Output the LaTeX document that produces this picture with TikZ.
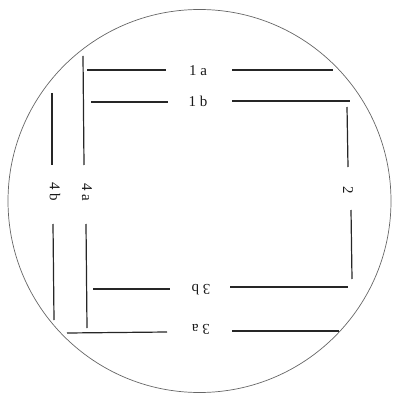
\documentclass[tikz,border=0pt]{standalone}
\usepackage{fontspec}
\setmainfont{Liberation Serif}
\begin{document}
\begin{tikzpicture}[x=1pt,y=-1pt,
  seg/.style={line width=1.2pt, black!85},
  rim/.style={line width=0.7pt, black!60},
  lab/.style={font=\fontsize{15}{15}\selectfont, inner sep=1pt, text=black!90}]
\useasboundingbox (0,0) rectangle (393,395);
\draw[rim] (199.5,201) circle[radius=191.5];
% labels
\node[lab] (l1a) at (198,71) {1 a};
\node[lab] (l1b) at (198,101) {1 b};
\node[lab, rotate=-90] (l2) at (348,190) {2};
\node[lab, rotate=180] (l3b) at (201,290) {3 b};
\node[lab, rotate=180] (l3a) at (201,329) {3 a};
\node[lab, rotate=-90] (l4a) at (87,192) {4 a};
\node[lab, rotate=-90] (l4b) at (55,192) {4 b};
% 1a
\draw[seg] (87,70) -- (166,70);
\draw[seg] (232,70) -- (333,70);
% 1b
\draw[seg] (91,102) -- (168,102);
\draw[seg] (232,101) -- (350,101);
% 2
\draw[seg] (347,107) -- (348,167);
\draw[seg] (351,210) -- (352,279);
% 3b
\draw[seg] (93,289) -- (170,289);
\draw[seg] (230,287) -- (348,287);
% 3a
\draw[seg] (67,333) -- (167,332);
\draw[seg] (232,331) -- (339,331);
% 4a
\draw[seg] (83,56) -- (84,165);
\draw[seg] (86,224) -- (87,328);
% 4b
\draw[seg] (52,93) -- (52,165);
\draw[seg] (53,224) -- (54,320);
\end{tikzpicture}
\end{document}
